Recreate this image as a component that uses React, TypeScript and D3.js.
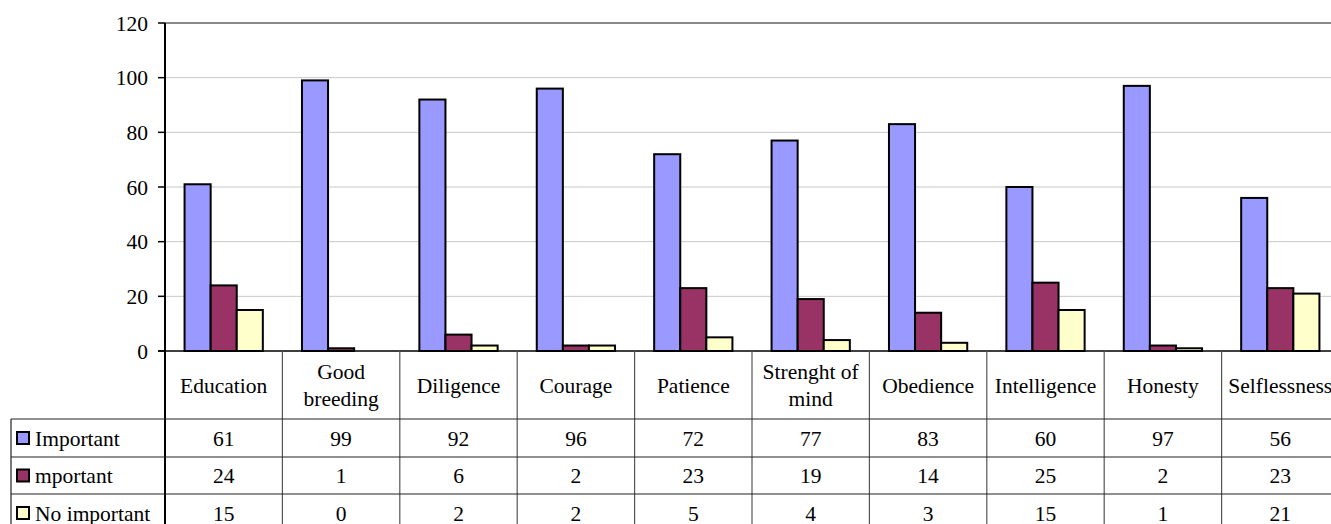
import * as d3 from 'd3'

const categories = [
  ['Education'],
  ['Good', 'breeding'],
  ['Diligence'],
  ['Courage'],
  ['Patience'],
  ['Strenght of', 'mind'],
  ['Obedience'],
  ['Intelligence'],
  ['Honesty'],
  ['Selflessness'],
]
const seriesNames = ['Important', 'mportant', 'No important']
const important = [61, 99, 92, 96, 72, 77, 83, 60, 97, 56]
const mImportant = [24, 1, 6, 2, 23, 19, 14, 25, 2, 23]
const noImportant = [15, 0, 2, 2, 5, 4, 3, 15, 1, 21]
const yTicks = [0, 20, 40, 60, 80, 100, 120]

const COLORS = ['#9999FF', '#993366', '#FFFFCC']
const FONT = "'Liberation Serif', 'DejaVu Serif', serif"
const W = 1331
const H = 524
const PLOT = { left: 165, right: 1339, top: 23, bottom: 351 }
const ROW_Y = [419, 457, 494, 532]
const TABLE_LEFT = 11
const TXT = { fontFamily: FONT, fontSize: 21.5 }

export default function App() {
  const series = [important, mImportant, noImportant]
  const keys = categories.map((c) => c.join(' '))
  const x = d3.scaleBand<string>().domain(keys).range([PLOT.left, PLOT.right]).padding(0)
  const cellW = x.bandwidth()
  // Excel-like gap width: 150% of a bar
  const xs = d3.scaleBand<number>().domain([0, 1, 2]).range([0, cellW]).paddingInner(0).paddingOuter(0.75)
  const y = d3.scaleLinear().domain([0, 120]).range([PLOT.bottom, PLOT.top])

  return (
    <svg width={W} height={H} style={{ position: 'absolute', left: 0, top: 0, background: '#fff' }}>
      {/* gridlines */}
      {yTicks.filter((t) => t > 0 && t < 120).map((t) => (
        <line key={t} x1={PLOT.left} x2={PLOT.right} y1={y(t)} y2={y(t)} stroke="#c8c8c8" strokeWidth={1} />
      ))}
      <line x1={PLOT.left} x2={PLOT.right} y1={y(120)} y2={y(120)} stroke="#8a8a8a" strokeWidth={2} />

      {/* bars */}
      {series.map((vals, si) =>
        vals.map((v, ci) => {
          if (v <= 0) return null
          const bx = (x(keys[ci]) ?? 0) + (xs(si) ?? 0)
          return (
            <rect key={`${si}-${ci}`} x={bx} y={y(v)} width={xs.bandwidth()} height={y(0) - y(v)}
              fill={COLORS[si]} stroke="#000" strokeWidth={2} />
          )
        })
      )}

      {/* y axis */}
      <line x1={PLOT.left} x2={PLOT.left} y1={PLOT.top} y2={H} stroke="#000" strokeWidth={2} />
      {yTicks.map((t) => (
        <g key={t}>
          <line x1={PLOT.left - 7} x2={PLOT.left} y1={y(t)} y2={y(t)} stroke="#000" strokeWidth={1.5} />
          <text x={148} y={y(t)} dy="0.35em" textAnchor="end" style={TXT} fill="#000">{t}</text>
        </g>
      ))}
      <line x1={PLOT.left - 7} x2={PLOT.right} y1={PLOT.bottom} y2={PLOT.bottom} stroke="#000" strokeWidth={1.5} />

      {/* data table */}
      {keys.map((k, ci) => {
        const x0 = x(k) ?? 0
        return (
          <g key={k}>
            {ci > 0 && <line x1={x0} x2={x0} y1={PLOT.bottom} y2={H} stroke="#555" strokeWidth={1.2} />}
            {categories[ci].map((line, li) => {
              const n = categories[ci].length
              const cy = (PLOT.bottom + ROW_Y[0]) / 2 + (li - (n - 1) / 2) * 27
              return (
                <text key={li} x={x0 + cellW / 2} y={cy} dy="0.35em" textAnchor="middle" style={TXT} fill="#000">{line}</text>
              )
            })}
            {series.map((vals, si) => (
              <text key={si} x={x0 + cellW / 2} y={(ROW_Y[si] + ROW_Y[si + 1]) / 2} dy="0.35em" textAnchor="middle" style={TXT} fill="#000">
                {vals[ci]}
              </text>
            ))}
          </g>
        )
      })}
      {ROW_Y.slice(0, 3).map((ry) => (
        <line key={ry} x1={TABLE_LEFT} x2={PLOT.right} y1={ry} y2={ry} stroke="#222" strokeWidth={1.2} />
      ))}
      <line x1={TABLE_LEFT} x2={TABLE_LEFT} y1={ROW_Y[0]} y2={H} stroke="#222" strokeWidth={1.2} />
      {seriesNames.map((name, si) => {
        const cy = (ROW_Y[si] + ROW_Y[si + 1]) / 2
        return (
          <g key={name}>
            <rect x={17} y={cy - 6} width={12} height={12} fill={COLORS[si]} stroke="#000" strokeWidth={2} />
            <text x={35} y={cy} dy="0.35em" style={TXT} fill="#000">{name}</text>
          </g>
        )
      })}
    </svg>
  )
}
